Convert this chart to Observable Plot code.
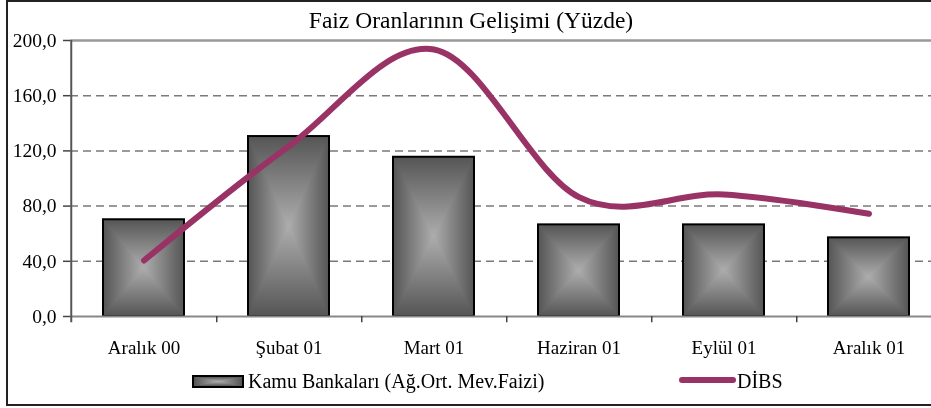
<!DOCTYPE html>
<html><head><meta charset="utf-8">
<script src="https://cdn.jsdelivr.net/npm/d3@7"></script>
<script src="https://cdn.jsdelivr.net/npm/@observablehq/plot@0.6"></script>
<style>
html,body{margin:0;padding:0;width:931px;height:408px;overflow:hidden;background:#fff;font-family:"Liberation Serif","DejaVu Serif",serif;color:#000;}
#frame{position:absolute;left:6px;top:0;width:1000px;height:406px;border:2px solid #222;box-sizing:border-box;}
#chart{position:absolute;left:0;top:0;width:944px;}
#chart svg{max-width:none !important;width:944px;height:408px;}
#title{position:absolute;left:0;top:7px;width:942px;text-align:center;font-size:23.5px;line-height:27px;white-space:nowrap;font-family:"Liberation Serif",serif;}
.leg{position:absolute;font-size:20px;line-height:22px;white-space:nowrap;font-family:"Liberation Serif",serif;}
#sw1{position:absolute;left:192px;top:375px;width:52px;height:13px;box-sizing:border-box;border:2px solid #000;background:linear-gradient(to bottom,#555,#adadad 50%,#555);}
#sw1 div{position:absolute;inset:0;background:linear-gradient(to right,#555,#adadad 50%,#555);mix-blend-mode:darken;}
#sw2{position:absolute;left:679px;top:377px;width:57px;height:6px;border-radius:3px;background:#993366;}
</style>
</head><body>
<div id="frame"></div>
<div id="chart"></div>
<div id="title">Faiz Oranlarının Gelişimi (Yüzde)</div>
<div id="sw1"><div></div></div>
<div class="leg" id="l1" style="left:248px;top:370px;">Kamu Bankaları (Ağ.Ort. Mev.Faizi)</div>
<div id="sw2"></div>
<div class="leg" id="l2" style="left:737px;top:370px;">DİBS</div>
<script>
const categories = ["Aralık 00", "Şubat 01", "Mart 01", "Haziran 01", "Eylül 01", "Aralık 01"];
const kamu = [70.1, 130.4, 115.4, 66.4, 66.4, 57.0];
const dibs = [40.6, 123.5, 193.5, 86.5, 88.4, 74.4];
const yTicks = [0, 40, 80, 120, 160, 200];
const gridTicks = [40, 80, 120, 160];

const rows = categories.map((c, i) => ({cat: c, kamu: kamu[i], dibs: dibs[i]}));
const W = 944, ML = 70, MR = 1;
const halfStep = (W - ML - MR) / categories.length / 2;

const chart = Plot.plot({
  width: W, height: 408,
  marginLeft: ML, marginRight: MR, marginTop: 40, marginBottom: 92,
  style: {fontFamily: '"Liberation Serif","DejaVu Serif",serif', background: "transparent", color: "#000", maxWidth: "none"},
  x: {domain: categories, paddingInner: 0.44, paddingOuter: 0.22, axis: null},
  y: {domain: [0, 200], axis: null},
  marks: [
    Plot.ruleY(gridTicks, {stroke: "#7a7a7a", strokeWidth: 1.5, strokeDasharray: "8,5"}),
    Plot.ruleY([200], {stroke: "#999", strokeWidth: 2.5}),
    Plot.barY(rows, {x: "cat", y: "kamu", fill: "url(#gh)"}),
    Plot.barY(rows, {x: "cat", y: "kamu", fill: "url(#gv)", mixBlendMode: "darken"}),
    Plot.barY(rows, {x: "cat", y: "kamu", fill: "none", stroke: "#000", strokeWidth: 2}),
    Plot.ruleY([0], {stroke: "#888", strokeWidth: 2}),
    Plot.ruleX(categories, {x: d => d, dx: halfStep, y1: 0, y2: -4.5, stroke: "#444", strokeWidth: 1.5}),
    Plot.ruleX([categories[0]], {x: d => d, dx: -halfStep, y1: -4.5, y2: 200, stroke: "#555", strokeWidth: 2}),
    Plot.axisY(yTicks, {tickFormat: d => d.toFixed(1).replace(".", ","), tickSize: 7, tickPadding: 7, fontSize: 19.5, stroke: "#444", strokeWidth: 1.5, label: null}),
    Plot.axisX({tickSize: 0, tickPadding: 24, fontSize: 19, label: null}),
    Plot.lineY(rows, {x: "cat", y: "dibs", curve: "cardinal", tension: 0, stroke: "#993366", strokeWidth: 6, strokeLinecap: "round"})
  ]
});

const svg = d3.select(chart);
const defs = svg.insert("defs", ":first-child");
const gh = defs.append("linearGradient").attr("id", "gh").attr("x1", 0).attr("x2", 1).attr("y1", 0).attr("y2", 0);
const gv = defs.append("linearGradient").attr("id", "gv").attr("x1", 0).attr("x2", 0).attr("y1", 0).attr("y2", 1);
for (const g of [gh, gv]) {
  g.append("stop").attr("offset", 0).attr("stop-color", "#555");
  g.append("stop").attr("offset", 0.5).attr("stop-color", "#adadad");
  g.append("stop").attr("offset", 1).attr("stop-color", "#555");
}
document.getElementById("chart").appendChild(chart);
</script>
</body></html>
